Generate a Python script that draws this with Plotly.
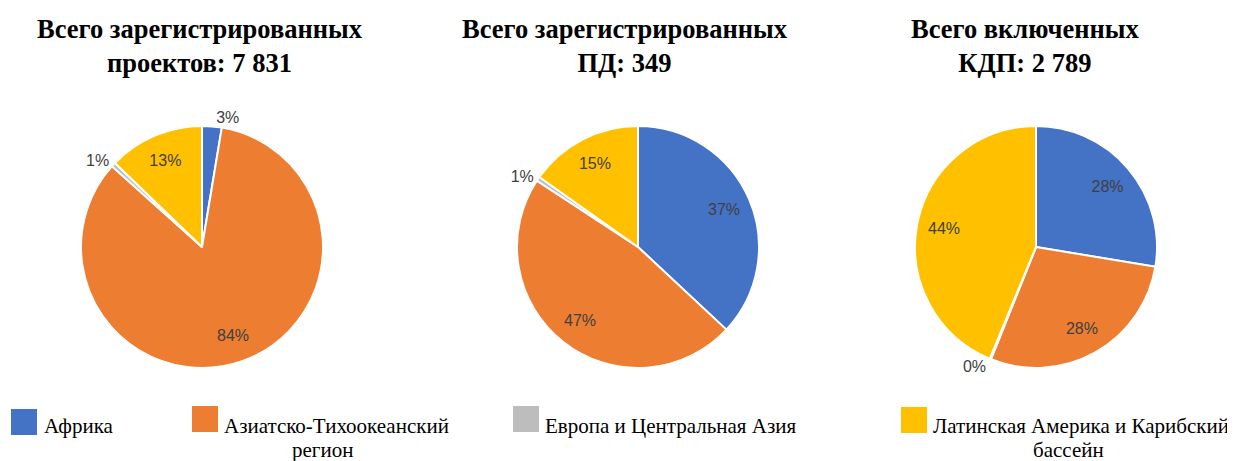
import plotly.graph_objects as go

# page body has an 8px margin: the figure is drawn from (8, 8) of the window
OFF = 8
FW, FH = 1235 - OFF, 461 - OFF


def px(x):
    return (x - OFF) / FW


def py(y):
    return 1 - (y - OFF) / FH


regions = ["Африка", "Азиатско-Тихоокеанский регион", "Европа и Центральная Азия",
           "Латинская Америка и Карибский бассейн"]
legend_lines = [["Африка"], ["Азиатско-Тихоокеанский", "регион"],
                ["Европа и Центральная Азия"], ["Латинская Америка и Карибский", "бассейн"]]
colors = ["#4472C4", "#ED7D31", "#BDBDBD", "#FFC000"]

titles = ["Всего зарегистрированных<br>проектов: 7 831",
          "Всего зарегистрированных<br>ПД: 349",
          "Всего включенных<br>КДП: 2 789"]

projects = [205, 6580, 45, 1001]     # total 7 831
pd_docs = [129, 165, 2, 53]          # total 349
kdp = [770, 794, 5, 1220]            # total 2 789
series = [projects, pd_docs, kdp]

positions = [["outside", "inside", "outside", "inside"],
             ["inside", "inside", "outside", "inside"],
             ["inside", "inside", "outside", "inside"]]

centers_x = [202, 638, 1036]
center_y = 247
radius = 121
title_x = [200, 625, 1025]

fig = go.Figure()
for vals, cx, pos in zip(series, centers_x, positions):
    dom = dict(x=[px(cx - radius), px(cx + radius)],
               y=[py(center_y + radius), py(center_y - radius)])
    # coloured pie
    fig.add_trace(go.Pie(
        labels=regions, values=vals, sort=False, direction="clockwise", rotation=0,
        marker=dict(colors=colors, line=dict(color="white", width=2)),
        textinfo="none", showlegend=False, hoverinfo="label+value+percent",
        domain=dom,
    ))
    # transparent ring on top carrying the percentage labels
    fig.add_trace(go.Pie(
        labels=regions, values=vals, sort=False, direction="clockwise", rotation=0,
        hole=0.55,
        marker=dict(colors=["rgba(0,0,0,0)"] * len(vals), line=dict(width=0)),
        texttemplate="%{percent:.0%}", textposition=pos,
        insidetextorientation="horizontal",
        textfont=dict(family="Liberation Sans, Arial", size=16, color="#404040"),
        outsidetextfont=dict(family="Liberation Sans, Arial", size=16, color="#404040"),
        showlegend=False, hoverinfo="skip",
        domain=dom,
    ))

annotations = []
for t, tx in zip(titles, title_x):
    annotations.append(dict(text=t, x=px(tx), y=py(12), xref="paper", yref="paper",
                            xanchor="center", yanchor="top", showarrow=False,
                            font=dict(family="Liberation Serif, Times New Roman", size=26.5,
                                      color="black", weight="bold"),
                            align="center"))

shapes = []
sq_x = [11, 192, 513, 901]
sq_top = [409, 406, 406, 407]
text_x = [42, 222, 543, 931]
line2_cx = [None, 322, None, 1068]
leg_font = dict(family="Liberation Serif, Times New Roman", size=21, color="black")
for lines, sx, st, tx, cx2, c in zip(legend_lines, sq_x, sq_top, text_x, line2_cx, colors):
    shapes.append(dict(type="rect", xref="paper", yref="paper",
                       x0=px(sx), x1=px(sx + 26), y0=py(st + 26), y1=py(st),
                       fillcolor=c, line=dict(width=0)))
    annotations.append(dict(text=lines[0], x=px(tx), y=py(412), xref="paper", yref="paper",
                            xanchor="left", yanchor="top", showarrow=False, font=leg_font))
    if len(lines) > 1:
        annotations.append(dict(text=lines[1], x=px(cx2), y=py(436), xref="paper", yref="paper",
                                xanchor="center", yanchor="top", showarrow=False, font=leg_font))

fig.update_layout(width=FW, height=FH, margin=dict(l=0, r=0, t=0, b=0),
                  paper_bgcolor="white", plot_bgcolor="white",
                  annotations=annotations, shapes=shapes)

fig.write_html("out.html")
